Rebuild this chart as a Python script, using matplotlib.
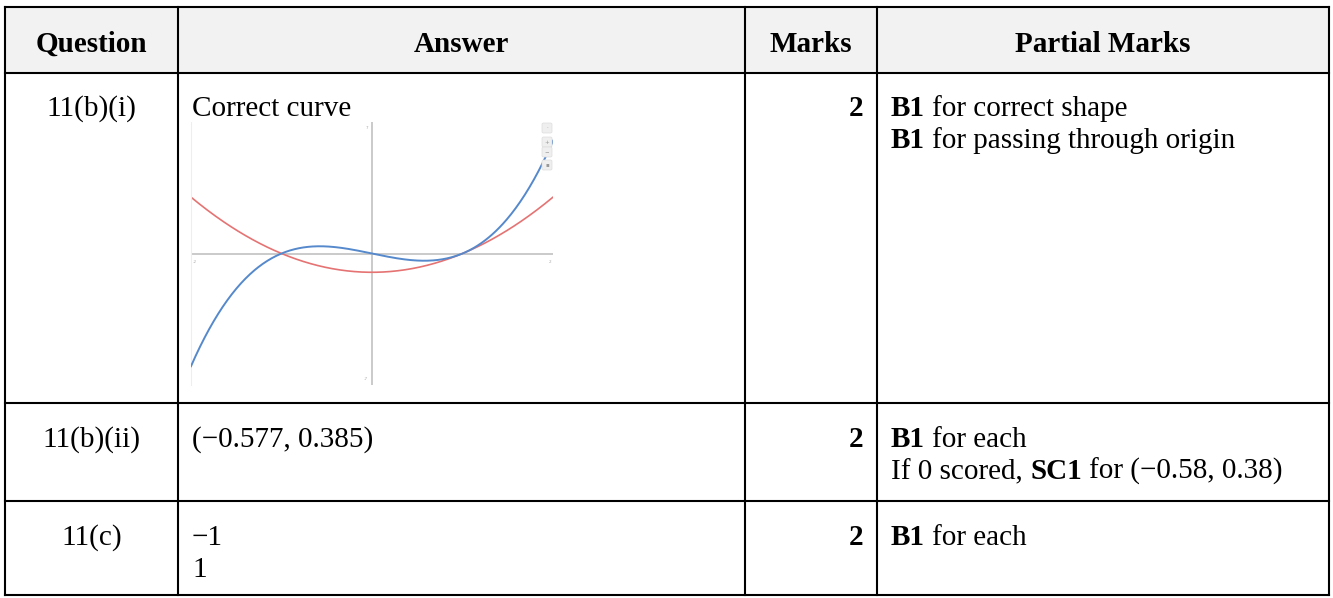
import numpy as np
import matplotlib.pyplot as plt
from matplotlib.patches import Rectangle, FancyBboxPatch

plt.rcParams['font.family'] = ['Liberation Serif', 'DejaVu Serif']

W, H = 1333, 598

headers = ['Question', 'Answer', 'Marks', 'Partial Marks']
questions = ['11(b)(i)', '11(b)(ii)', '11(c)']
answers = [['Correct curve'], ['(−0.577, 0.385)'], ['−1', '1']]
marks = ['2', '2', '2']
partials = [
    [[('B1', True), (' for correct shape', False)],
     [('B1', True), (' for passing through origin', False)]],
    [[('B1', True), (' for each', False)],
     [('If 0 scored,', False), (' SC1', True), (' for (−0.58, 0.38)', False)]],
    [[('B1', True), (' for each', False)]],
]

# sketch in the first answer cell: y = x^3 - x (blue) and y = x^2 - 1 (red)
cubic = [1, 0, -1, 0]
parabola = [1, 0, -1]
x_range = (-2, 2)
y_range = (-7, 7)

# layout in pixels (top-left origin)
col_x = [5, 178, 745, 877, 1329]
row_y = [7, 73, 403, 501, 595]
header_base = 52
row_base = [116, 447, 545]
line_gap = 32
pad = 14
fs = 21
space_w = 0.25 * fs * 100 / 72

fig = plt.figure(figsize=(W / 100, H / 100), dpi=100)
fig.patch.set_facecolor('white')

# the sketch graph
ax = fig.add_axes([191 / W, 1 - 385 / H, 362 / W, 263 / H])
ax.set_zorder(1)
ax.set_xlim(*x_range)
ax.set_ylim(*y_range)
for sp in ax.spines.values():
    sp.set_visible(False)
ax.spines['left'].set_visible(True)
ax.spines['left'].set_color('#eeeeee')
ax.set_xticks([])
ax.set_yticks([])
ax.axhline(0, color='#c6c6c6', lw=1.3, zorder=1)
ax.axvline(0, color='#c6c6c6', lw=1.3, zorder=1)
xs = np.linspace(x_range[0], x_range[1], 400)
ax.plot(xs, np.polyval(parabola, xs), color='#e57373', lw=1.2, zorder=2)
ax.plot(xs, np.polyval(cubic, xs), color='#5589cc', lw=1.4, zorder=3)
tick_kw = dict(fontsize=3, color='#aaaaaa', family='DejaVu Sans')
ax.text(x_range[0] + 0.02, -0.35, str(x_range[0]), va='top', **tick_kw)
ax.text(x_range[1] - 0.02, -0.35, str(x_range[1]), va='top', ha='right', **tick_kw)
ax.text(-0.04, y_range[1] - 0.2, str(y_range[1]), va='top', ha='right', **tick_kw)
ax.text(-0.04, y_range[0] + 0.2, str(y_range[0]), va='bottom', ha='right', **tick_kw)

# table drawn in pixel coordinates
bg = fig.add_axes([0, 0, 1, 1])
bg.set_zorder(2)
bg.set_xlim(0, W)
bg.set_ylim(H, 0)
bg.axis('off')

bg.add_patch(Rectangle((col_x[0], row_y[0]), col_x[-1] - col_x[0], row_y[1] - row_y[0],
                       facecolor='#f2f2f2', edgecolor='none', zorder=0))
for x in col_x:
    bg.plot([x, x], [row_y[0], row_y[-1]], color='black', lw=1.5,
            solid_capstyle='projecting', zorder=3)
for y in row_y:
    bg.plot([col_x[0], col_x[-1]], [y, y], color='black', lw=1.5,
            solid_capstyle='projecting', zorder=3)

# graph toolbar buttons
for ty, th in [(123, 10), (137, 10), (147, 10), (160, 10)]:
    bg.add_patch(FancyBboxPatch((542, ty), 10, th, boxstyle='round,pad=0,rounding_size=1.5',
                                facecolor='#efefef', edgecolor='#dddddd', lw=0.5, zorder=1))
for ty, s in [(128, '·'), (142, '+'), (152, '−'), (165, '▪')]:
    bg.text(547, ty, s, fontsize=4, color='#999999', ha='center', va='center',
            family='DejaVu Sans', zorder=2)

renderer = fig.canvas.get_renderer()


def rich(x, y, parts):
    # draw a line made of bold and regular pieces, one after another
    for s, b in parts:
        if s.startswith(' '):
            x += space_w
            s = s.lstrip(' ')
        t = bg.text(x, y, s, fontsize=fs, fontweight='bold' if b else 'normal',
                    ha='left', va='baseline', zorder=4)
        bb = t.get_window_extent(renderer=renderer)
        x = bg.transData.inverted().transform((bb.x1, bb.y0))[0]


for i, h in enumerate(headers):
    cx = (col_x[i] + col_x[i + 1]) / 2
    bg.text(cx, header_base, h, fontsize=fs, fontweight='bold', ha='center', va='baseline')

for r in range(len(questions)):
    base = row_base[r]
    bg.text((col_x[0] + col_x[1]) / 2, base, questions[r], fontsize=fs,
            ha='center', va='baseline')
    for k, line in enumerate(answers[r]):
        bg.text(col_x[1] + pad, base + k * line_gap, line, fontsize=fs,
                ha='left', va='baseline')
    bg.text(col_x[3] - pad, base, marks[r], fontsize=fs, fontweight='bold',
            ha='right', va='baseline')
    for k, parts in enumerate(partials[r]):
        rich(col_x[3] + pad, base + k * line_gap, parts)

fig.savefig('out.png', dpi=100, facecolor='white')
